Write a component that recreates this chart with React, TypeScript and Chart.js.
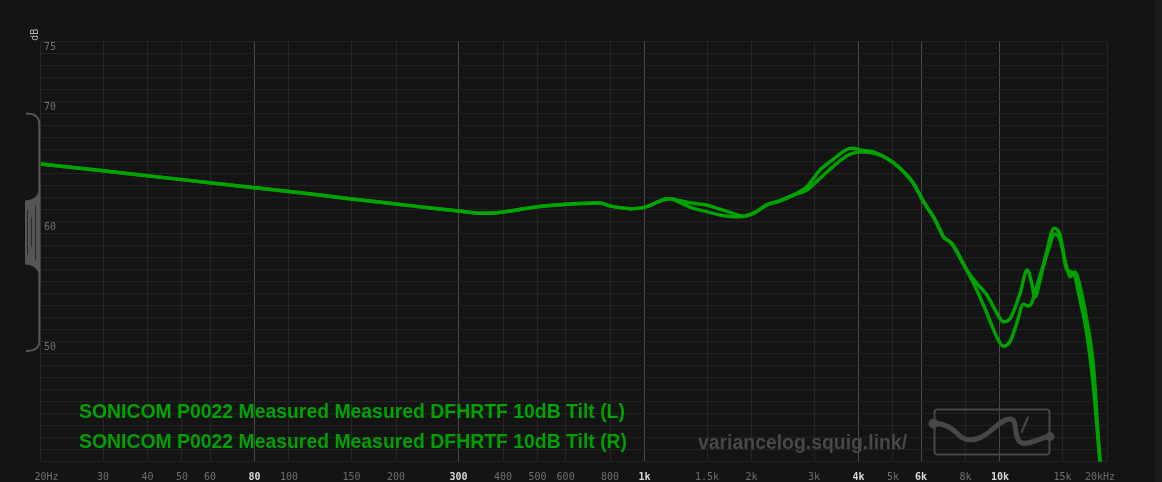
import React, { useEffect, useRef } from "react";
import { Chart, registerables } from "chart.js";

Chart.register(...registerables);

const BG = "#141414";

const GRID_FREQS = [20, 30, 40, 50, 60, 80, 100, 150, 200, 300, 400, 500, 600, 800, 1000, 1500, 2000, 3000, 4000, 5000, 6000, 8000, 10000, 15000, 20000];
const X_TICK_LABELS = ["20Hz", "30", "40", "50", "60", "80", "100", "150", "200", "300", "400", "500", "600", "800", "1k", "1.5k", "2k", "3k", "4k", "5k", "6k", "8k", "10k", "15k", "20kHz"];
const MAJOR_FREQS = [80, 300, 1000, 4000, 6000, 10000];
const Y_TICKS = [75, 70, 60, 50];

const L_FREQ = [20, 30, 50, 80, 100, 122, 150, 200, 250, 300, 350, 400, 500, 600, 660, 750, 800, 910, 1000, 1142, 1180, 1259, 1372, 1496, 1631, 1777, 1897, 2024, 2208, 2406, 2622, 2860, 3117, 3397, 3705, 3868, 4040, 4403, 4804, 5235, 5704, 6024, 6222, 6494, 6781, 6928, 7315, 8061, 8602, 9176, 9790, 10218, 10672, 11384, 11936, 12281, 12546, 12958, 13536, 14191, 14752, 15406, 16080, 16790, 17539, 18304, 19114, 20000];
const L_DB = [64.8, 64.22, 63.49, 62.81, 62.5, 62.21, 61.87, 61.46, 61.12, 60.87, 60.68, 60.8, 61.23, 61.43, 61.51, 61.54, 61.3, 61.07, 61.18, 61.85, 61.9, 61.73, 61.52, 61.38, 61.02, 60.68, 60.46, 60.68, 61.38, 61.73, 62.2, 62.9, 64.29, 65.18, 66.0, 66.1, 65.96, 65.8, 65.27, 64.43, 63.18, 61.93, 61.23, 60.4, 59.3, 58.73, 58.18, 55.96, 54.85, 53.9, 52.4, 51.65, 51.9, 54.0, 55.96, 54.85, 53.7, 55.1, 57.5, 59.43, 58.9, 56.0, 55.7, 53.5, 50.7, 46.3, 40.1, 36.0];

const R_FREQ = [20, 30, 50, 80, 100, 122, 150, 200, 250, 300, 350, 400, 500, 600, 660, 750, 800, 910, 1000, 1142, 1180, 1259, 1372, 1496, 1631, 1777, 1897, 2024, 2208, 2406, 2622, 2860, 3117, 3397, 3705, 3868, 4040, 4403, 4804, 5235, 5704, 6024, 6222, 6494, 6781, 6928, 7315, 8061, 8602, 9176, 9790, 10218, 10672, 11143, 11632, 12012, 12281, 12686, 13536, 14283, 14752, 15406, 15740, 16255, 16790, 17539, 18304, 19114, 20000];
const R_DB = [64.8, 64.22, 63.49, 62.81, 62.5, 62.21, 61.87, 61.46, 61.12, 60.87, 60.68, 60.8, 61.23, 61.43, 61.51, 61.54, 61.3, 61.07, 61.18, 61.85, 61.9, 61.57, 61.1, 60.82, 60.54, 60.4, 60.42, 60.68, 61.38, 61.73, 62.2, 62.6, 63.6, 64.6, 65.46, 65.7, 65.8, 65.7, 65.27, 64.43, 63.18, 61.93, 61.23, 60.4, 59.3, 58.73, 58.18, 55.96, 54.3, 52.4, 50.4, 49.6, 50.0, 51.5, 53.1, 52.96, 53.2, 54.6, 57.2, 58.96, 58.46, 56.2, 55.4, 55.8, 54.6, 51.8, 48.1, 40.1, 36.0];

const LEGEND_LABELS = [
  "SONICOM P0022 Measured Measured DFHRTF 10dB Tilt (L)",
  "SONICOM P0022 Measured Measured DFHRTF 10dB Tilt (R)",
];
const WATERMARK = "variancelog.squig.link/";
const LINE_COLORS = ["#00a300", "#00a000"];

const toPoints = (f: number[], v: number[]) => f.map((x, i) => ({ x, y: v[i] }));

const decorPlugin = {
  id: "decor",
  beforeDraw(chart: any) {
    const { ctx, width, height } = chart;
    ctx.save();
    ctx.fillStyle = BG;
    ctx.fillRect(0, 0, width, height);
    ctx.fillStyle = "#1c1c1c";
    ctx.fillRect(1155, 0, 7, height);
    ctx.restore();
  },
  afterDraw(chart: any) {
    const { ctx } = chart;
    const xs = chart.scales.x;
    const ys = chart.scales.y;
    ctx.save();

    // x tick labels
    ctx.textBaseline = "alphabetic";
    GRID_FREQS.forEach((f, i) => {
      const px = xs.getPixelForValue(f);
      const major = MAJOR_FREQS.includes(f);
      ctx.font = (major ? "bold " : "") + "10px 'DejaVu Sans Mono'";
      ctx.fillStyle = major ? "#d8d8d8" : "#6e6e6e";
      const label = X_TICK_LABELS[i];
      if (i === 0) {
        ctx.textAlign = "left";
        ctx.fillText(label, px - 6, 480);
      } else if (i === GRID_FREQS.length - 1) {
        ctx.textAlign = "left";
        ctx.fillText(label, 1085, 480);
      } else {
        ctx.textAlign = "center";
        ctx.fillText(label, px, 480);
      }
    });

    // y tick labels
    ctx.font = "10px 'DejaVu Sans Mono'";
    ctx.fillStyle = "#707070";
    ctx.textAlign = "left";
    Y_TICKS.forEach((v) => {
      const py = ys.getPixelForValue(v);
      ctx.fillText(String(v), 44, py + 8.5);
    });

    // dB unit label
    ctx.save();
    ctx.translate(38.3, 34.7);
    ctx.rotate(-Math.PI / 2);
    ctx.textAlign = "center";
    ctx.textBaseline = "alphabetic";
    ctx.fillStyle = "#b5b5b5";
    ctx.font = "10px 'DejaVu Sans Mono'";
    ctx.fillText("dB", 0, 0);
    ctx.restore();

    // left bracket handle
    ctx.strokeStyle = "#555555";
    ctx.fillStyle = "#555555";
    ctx.lineWidth = 2;
    ctx.beginPath();
    ctx.moveTo(26, 113.5);
    ctx.quadraticCurveTo(39.3, 113.5, 39.3, 124);
    ctx.lineTo(39.3, 341);
    ctx.quadraticCurveTo(39.3, 351, 26, 351);
    ctx.stroke();
    ctx.beginPath();
    ctx.moveTo(40.3, 178);
    ctx.bezierCurveTo(40.3, 195, 36, 199.5, 25, 200.5);
    ctx.lineTo(25, 264.5);
    ctx.bezierCurveTo(36, 265.5, 40.3, 270, 40.3, 287);
    ctx.closePath();
    ctx.fill();
    ctx.strokeStyle = "#2a2a2a";
    ctx.lineWidth = 1;
    [[27.5, 210, 255], [31.5, 217, 247], [35.5, 205, 260]].forEach(([x, a, b]) => {
      ctx.beginPath();
      ctx.moveTo(x, a);
      ctx.lineTo(x, b);
      ctx.stroke();
    });

    // legend
    ctx.font = "bold 19.4px 'Liberation Sans', Arial, sans-serif";
    ctx.textAlign = "left";
    ctx.textBaseline = "alphabetic";
    LEGEND_LABELS.forEach((t, i) => {
      ctx.fillStyle = LINE_COLORS[i];
      ctx.fillText(t, 79, 418 + i * 30);
    });

    // watermark
    ctx.fillStyle = "#484848";
    ctx.font = "bold 19.4px 'Liberation Sans', Arial, sans-serif";
    ctx.fillText(WATERMARK, 698, 448.5);

    // logo
    ctx.strokeStyle = "#474747";
    ctx.fillStyle = "#474747";
    ctx.lineWidth = 2;
    ctx.beginPath();
    (ctx as any).roundRect(934.5, 409.5, 115, 45, 3);
    ctx.stroke();
    ctx.lineWidth = 5;
    ctx.lineCap = "round";
    ctx.lineJoin = "round";
    ctx.beginPath();
    ctx.moveTo(933, 423.5);
    ctx.bezierCurveTo(945, 423, 952, 428, 960, 436);
    ctx.bezierCurveTo(966, 441, 975, 441, 985, 435);
    ctx.bezierCurveTo(995, 428, 1003, 418, 1011, 419);
    ctx.bezierCurveTo(1018, 420, 1013, 436, 1020, 442);
    ctx.bezierCurveTo(1027, 447, 1040, 437, 1050, 436.5);
    ctx.stroke();
    ctx.beginPath();
    ctx.arc(933.5, 423.5, 5, 0, Math.PI * 2);
    ctx.arc(1050, 436.5, 4.5, 0, Math.PI * 2);
    ctx.fill();
    ctx.lineWidth = 2;
    ctx.beginPath();
    ctx.moveTo(1021.7, 432);
    ctx.lineTo(1027.8, 417.5);
    ctx.stroke();

    ctx.restore();
  },
};

export default function App() {
  const ref = useRef<HTMLCanvasElement | null>(null);
  useEffect(() => {
    document.body.style.margin = "0";
    document.body.style.background = BG;
    const canvas = ref.current;
    if (!canvas) return;
    const chart = new Chart(canvas, {
      type: "line",
      data: {
        datasets: [
          {
            label: LEGEND_LABELS[0],
            data: toPoints(L_FREQ, L_DB),
            borderColor: LINE_COLORS[0],
            borderWidth: 3.5,
            pointRadius: 0,
            fill: false,
            cubicInterpolationMode: "monotone",
          },
          {
            label: LEGEND_LABELS[1],
            data: toPoints(R_FREQ, R_DB),
            borderColor: LINE_COLORS[1],
            borderWidth: 3.5,
            pointRadius: 0,
            fill: false,
            cubicInterpolationMode: "monotone",
          },
        ],
      },
      options: {
        animation: false,
        responsive: false,
        maintainAspectRatio: false,
        events: [],
        layout: { padding: { left: 40.5, right: 55, top: 41.5, bottom: 20.5 } },
        plugins: { legend: { display: false }, tooltip: { enabled: false } },
        scales: {
          x: {
            type: "logarithmic",
            min: 20,
            max: 20000,
            afterBuildTicks: (s: any) => {
              s.ticks = GRID_FREQS.map((v) => ({ value: v }));
            },
            ticks: { display: false },
            border: { display: false },
            grid: {
              drawTicks: false,
              color: (c: any) => (MAJOR_FREQS.includes(c.tick?.value) ? "#4a4a4a" : "#262626"),
            },
          },
          y: {
            type: "linear",
            min: 40,
            max: 75,
            ticks: { display: false, stepSize: 1 },
            border: { display: false },
            grid: { drawTicks: false, color: "#222222" },
          },
        },
      },
      plugins: [decorPlugin],
    } as any);
    return () => chart.destroy();
  }, []);
  return (
    <div style={{ position: "fixed", left: 0, top: 0, width: 1162, height: 482, background: BG }}>
      <canvas ref={ref} width={1162} height={482} style={{ width: 1162, height: 482, display: "block" }} />
    </div>
  );
}
